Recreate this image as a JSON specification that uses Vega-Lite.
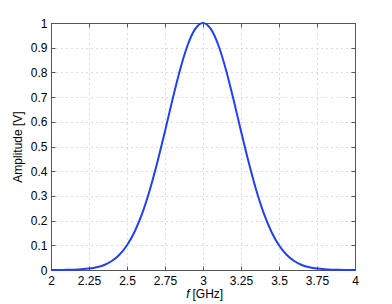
{
  "$schema": "https://vega.github.io/schema/vega-lite/v6.json",
  "width": 304,
  "height": 247,
  "autosize": {"type": "none"},
  "padding": {"left": 51, "top": 23, "right": 37, "bottom": 34},
  "background": "white",
  "config": {
    "view": {"stroke": "#555555", "strokeWidth": 1},
    "axis": {
      "labelFont": "Liberation Sans",
      "titleFont": "Liberation Sans",
      "labelFontSize": 12,
      "titleFontSize": 12,
      "labelColor": "#000000",
      "titleColor": "#000000",
      "titleFontWeight": "normal",
      "domainColor": "#555555",
      "tickColor": "#555555",
      "gridColor": "#b8b8b8",
      "gridDash": [1, 4],
      "gridWidth": 1,
      "tickSize": -4
    }
  },
  "data": {
    "values": [
      {"f": 2.0, "a": 0.0001},
      {"f": 2.05, "a": 0.00025},
      {"f": 2.1, "a": 0.00058},
      {"f": 2.15, "a": 0.00129},
      {"f": 2.2, "a": 0.00276},
      {"f": 2.25, "a": 0.00563},
      {"f": 2.3, "a": 0.011},
      {"f": 2.35, "a": 0.0204},
      {"f": 2.4, "a": 0.0363},
      {"f": 2.45, "a": 0.0617},
      {"f": 2.5, "a": 0.1},
      {"f": 2.55, "a": 0.155},
      {"f": 2.6, "a": 0.229},
      {"f": 2.65, "a": 0.324},
      {"f": 2.7, "a": 0.437},
      {"f": 2.75, "a": 0.562},
      {"f": 2.8, "a": 0.692},
      {"f": 2.85, "a": 0.813},
      {"f": 2.9, "a": 0.912},
      {"f": 2.95, "a": 0.977},
      {"f": 3.0, "a": 1.0},
      {"f": 3.05, "a": 0.977},
      {"f": 3.1, "a": 0.912},
      {"f": 3.15, "a": 0.813},
      {"f": 3.2, "a": 0.692},
      {"f": 3.25, "a": 0.562},
      {"f": 3.3, "a": 0.437},
      {"f": 3.35, "a": 0.324},
      {"f": 3.4, "a": 0.229},
      {"f": 3.45, "a": 0.155},
      {"f": 3.5, "a": 0.1},
      {"f": 3.55, "a": 0.0617},
      {"f": 3.6, "a": 0.0363},
      {"f": 3.65, "a": 0.0204},
      {"f": 3.7, "a": 0.011},
      {"f": 3.75, "a": 0.00563},
      {"f": 3.8, "a": 0.00276},
      {"f": 3.85, "a": 0.00129},
      {"f": 3.9, "a": 0.00058},
      {"f": 3.95, "a": 0.00025},
      {"f": 4.0, "a": 0.0001}
    ]
  },
  "resolve": {"axis": {"x": "independent", "y": "independent"}},
  "layer": [
    {
      "mark": {"type": "line", "color": "#2040f5", "strokeWidth": 2, "interpolate": "monotone"},
      "encoding": {
        "x": {
          "field": "f", "type": "quantitative",
          "scale": {"domain": [2, 4], "nice": false, "zero": false},
          "axis": {
            "values": [2, 2.25, 2.5, 2.75, 3, 3.25, 3.5, 3.75, 4],
            "format": ".2~f",
            "title": "[GHz]",
            "titleAlign": "left",
            "titleAnchor": "start",
            "titleBaseline": "middle",
            "titleX": 141,
            "titleY": 23,
            "labelPadding": 9,
            "labelFlush": false
          }
        },
        "y": {
          "field": "a", "type": "quantitative",
          "scale": {"domain": [0, 1], "nice": false},
          "axis": {
            "values": [0, 0.1, 0.2, 0.3, 0.4, 0.5, 0.6, 0.7, 0.8, 0.9, 1],
            "format": ".1~f",
            "title": "Amplitude [V]",
            "titlePadding": 6,
            "labelPadding": 8,
            "labelFlush": false
          }
        }
      }
    },
    {
      "mark": {"type": "line", "opacity": 0},
      "encoding": {
        "x": {
          "field": "f", "type": "quantitative",
          "scale": {"domain": [2, 4], "nice": false, "zero": false},
          "axis": {
            "orient": "top",
            "values": [2, 2.25, 2.5, 2.75, 3, 3.25, 3.5, 3.75, 4],
            "labels": false, "grid": false, "title": null
          }
        },
        "y": {
          "field": "a", "type": "quantitative",
          "scale": {"domain": [0, 1], "nice": false},
          "axis": {
            "orient": "right",
            "values": [0, 0.1, 0.2, 0.3, 0.4, 0.5, 0.6, 0.7, 0.8, 0.9, 1],
            "labels": false, "grid": false, "title": null
          }
        }
      }
    },
    {
      "mark": {"type": "line", "opacity": 0},
      "encoding": {
        "x": {
          "field": "f", "type": "quantitative",
          "scale": {"domain": [2, 4], "nice": false, "zero": false},
          "axis": {
            "orient": "bottom",
            "labels": false, "grid": false, "ticks": false, "domain": false,
            "title": "f",
            "titleFontStyle": "italic",
            "titleAlign": "right",
            "titleAnchor": "start",
            "titleBaseline": "middle",
            "titleX": 138,
            "titleY": 23
          }
        },
        "y": {"field": "a", "type": "quantitative", "scale": {"domain": [0, 1], "nice": false}, "axis": null}
      }
    }
  ]
}
